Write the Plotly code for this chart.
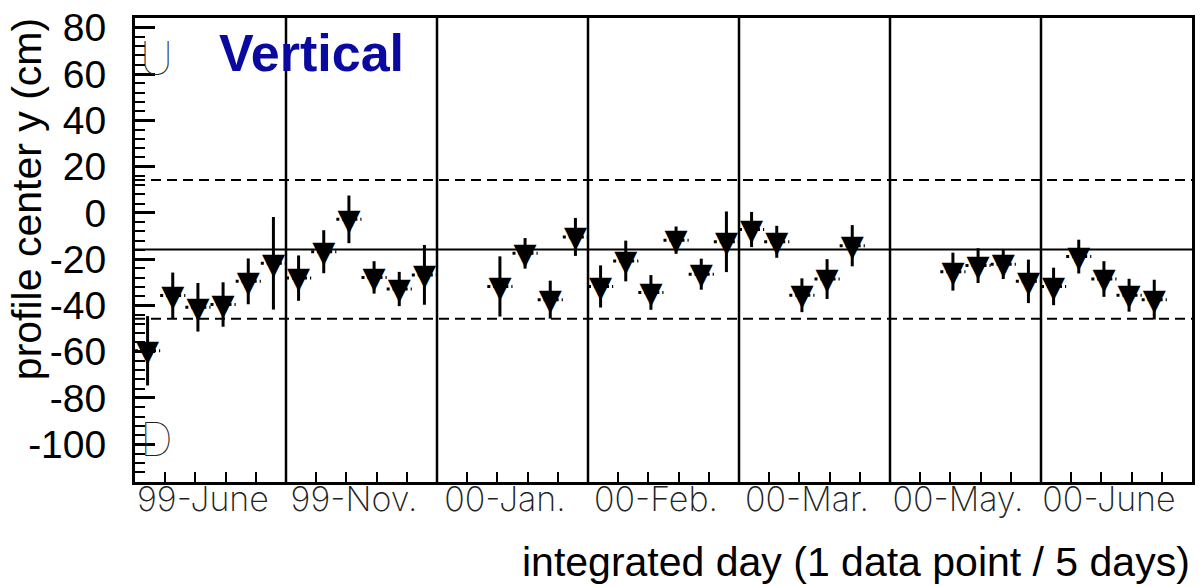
import plotly.graph_objects as go

# ---------------- data ----------------
section_labels = ["99-June", "99-Nov.", "00-Jan.", "00-Feb.", "00-Mar.", "00-May.", "00-June"]
bins_per_section = 6

point_bin = [0, 1, 2, 3, 4, 5,
             6, 7, 8, 9, 10, 11,
             14, 15, 16, 17,
             18, 19, 20, 21, 22, 23,
             24, 25, 26, 27, 28,
             32, 33, 34, 35,
             36, 37, 38, 39, 40]

center_y = [-59.6, -35.7, -40.8, -39.6, -29.6, -21.8,
            -28.2, -16.8, -2.8, -27.9, -32.9, -26.8,
            -31.8, -17.5, -37.5, -10.4,
            -31.8, -20.8, -34.4, -11.8, -26.5, -12.5,
            -7.2, -12.5, -35.6, -28.6, -14.2,
            -25.4, -22.8, -22.2, -29.6,
            -31.8, -18.9, -28.6, -35.6, -37.5]

center_y_err = [15.0, 9.9, 10.5, 9.6, 9.9, 20.0,
                9.8, 9.3, 10.3, 7.0, 7.4, 12.9,
                13.0, 6.6, 8.2, 8.2,
                9.1, 8.8, 7.5, 5.9, 6.7, 13.1,
                7.6, 6.9, 7.3, 8.6, 8.9,
                8.2, 7.5, 6.4, 9.4,
                8.1, 7.3, 7.7, 7.1, 8.6]

mean_y = -15.8
band_half_width = 30.0

y_range = [-116.3, 84.2]
y_tick_values = [80, 60, 40, 20, 0, -20, -40, -60, -80, -100]

# ---------------- derived ----------------
n_bins = bins_per_section * len(section_labels)
x_range = [-0.5, n_bins - 0.5]
boundaries = [k * bins_per_section - 0.5 for k in range(1, len(section_labels))]
label_pos = [k * bins_per_section + (bins_per_section - 1) / 2 - 0.3 for k in range(len(section_labels))]

# horizontal (bin-width) error segments
hx, hy = [], []
for b, v in zip(point_bin, center_y):
    hx += [b - 0.5, b + 0.5, None]
    hy += [v, v, None]

fig = go.Figure()

fig.add_trace(go.Scatter(
    x=hx, y=hy, mode="lines",
    line=dict(color="black", width=3, dash="dot"),
    hoverinfo="skip", showlegend=False))

fig.add_trace(go.Scatter(
    x=point_bin, y=center_y, mode="markers",
    marker=dict(symbol="circle", size=1, color="black"),
    error_y=dict(type="data", array=center_y_err, visible=True,
                 thickness=3, width=0, color="black"),
    showlegend=False))

# down-triangle marker glyph (baseline set by the larger outer font size so the
# glyph is vertically centred on the data point)
tri = '<span style="font-size:30px">\u25BC</span>'
fig.add_trace(go.Scatter(
    x=point_bin, y=center_y, mode="text",
    text=[tri] * len(point_bin), textposition="middle center",
    textfont=dict(family="DejaVu Sans", size=41, color="black"),
    showlegend=False))

# invisible trace carrying the label axis
fig.add_trace(go.Scatter(x=label_pos, y=[None] * len(label_pos), xaxis="x2",
                         mode="markers", showlegend=False, hoverinfo="skip"))

shapes = []
for b in boundaries:
    shapes.append(dict(type="line", xref="x", yref="paper", x0=b, x1=b, y0=0, y1=1,
                       line=dict(color="black", width=2.5)))
shapes.append(dict(type="line", xref="paper", yref="y", x0=0, x1=1, y0=mean_y, y1=mean_y,
                   line=dict(color="black", width=2)))
for s in (1, -1):
    yv = mean_y + s * band_half_width
    shapes.append(dict(type="line", xref="paper", yref="y", x0=0, x1=1, y0=yv, y1=yv,
                       line=dict(color="black", width=2, dash="10px,6px")))

annotations = [
    dict(text="profile center y (cm)", xref="paper", yref="paper",
         x=-0.102, y=0.61, textangle=-90, showarrow=False,
         xanchor="center", yanchor="middle",
         font=dict(family="Liberation Sans, Arial", size=41, color="black")),
    dict(text="integrated day (1 data point / 5 days)", xref="paper", yref="paper",
         x=1.0, y=-0.173, showarrow=False, xanchor="right", yanchor="middle",
         font=dict(family="Liberation Sans, Arial", size=41, color="black")),
    dict(text="<b>Vertical</b>", xref="paper", yref="paper",
         x=0.078, y=0.925, showarrow=False, xanchor="left", yanchor="middle",
         font=dict(family="Liberation Sans, Arial", size=52, color="#0a0aa0")),
    dict(text="U", xref="x", yref="y", x=0.37, y=67, showarrow=False,
         xanchor="center", yanchor="middle",
         font=dict(family="Inter", weight=100, size=46, color="#222")),
    dict(text="D", xref="x", yref="y", x=0.37, y=-97.7, showarrow=False,
         xanchor="center", yanchor="middle",
         font=dict(family="Inter", weight=100, size=46, color="#222")),
]

fig.update_layout(
    width=1201, height=586,
    margin=dict(l=135, r=6, t=15, b=104),
    paper_bgcolor="white", plot_bgcolor="white",
    shapes=shapes, annotations=annotations,
    xaxis=dict(range=x_range, showgrid=False, zeroline=False,
               showline=True, mirror=True, linewidth=3, linecolor="black",
               ticks="inside", tick0=-0.5, dtick=1.2, ticklen=10, tickwidth=2,
               tickcolor="black", showticklabels=False),
    xaxis2=dict(range=x_range, overlaying="x", anchor="y", side="bottom",
                showgrid=False, zeroline=False, showline=False, ticks="",
                tickmode="array", tickvals=label_pos, ticktext=section_labels,
                ticklabelstandoff=-6,
                tickfont=dict(family="Inter", weight=200, size=34, color="#222")),
    yaxis=dict(range=y_range, showgrid=False, zeroline=False,
               showline=True, mirror=True, linewidth=3, linecolor="black",
               ticks="inside", tickmode="array", tickvals=y_tick_values,
               ticktext=[str(v) for v in y_tick_values],
               ticklen=20, tickwidth=2.5,
               tickcolor="black", ticklabelstandoff=18,
               minor=dict(ticks="inside", tickmode="linear", tick0=0, dtick=4,
                          ticklen=10, tickwidth=2, tickcolor="black"),
               tickfont=dict(family="Liberation Sans, Arial", size=39, color="black")),
)

fig.write_html("out.html")
